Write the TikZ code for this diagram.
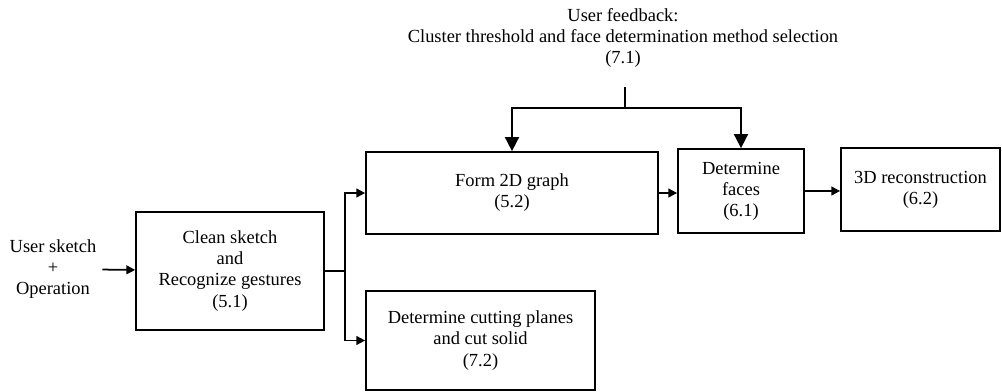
\documentclass[tikz,border=0pt]{standalone}
\usepackage{fontspec}
\setmainfont{Liberation Serif}
\usetikzlibrary{arrows.meta}

\begin{document}
\begin{tikzpicture}[x=0.02cm,y=-0.02cm,font=\fontsize{10.5}{12}\selectfont]
\tikzstyle{block} = [rectangle, draw=black, line width=1pt, fill=white,
text centered, align=center, inner sep=2pt]
\tikzstyle{line} = [draw, line width=1pt, -{Triangle[length=5pt,width=5pt]}];
\tikzstyle{bigline} = [draw, line width=1pt, -{Triangle[length=8pt,width=8pt]}];
\useasboundingbox (0,0) rectangle (1002,392);

% input and feedback texts
\node [align=center] (input) at (53,269) {User sketch\\+\\Operation};
\node [align=center] (feedback) at (623,38) {User feedback:\\
Cluster threshold and face determination method selection\\(7.1)};

% blocks
\node [block, minimum width=3.76cm, minimum height=2.36cm] (clean) at (230,271)
{Clean sketch\\and\\Recognize gestures\\(5.1)};
\node [block, minimum width=5.84cm, minimum height=1.64cm] (graph) at (512,193)
{Form 2D graph\\(5.2)};
\node [block, minimum width=2.52cm, minimum height=1.68cm] (faces) at (741,191)
{Determine\\faces\\(6.1)};
\node [block, minimum width=3.18cm, minimum height=1.66cm] (recon) at (920.5,189.5)
{3D reconstruction\\(6.2)};
\node [block, minimum width=4.58cm, minimum height=1.98cm] (cut) at (480.5,340.5)
{Determine cutting planes\\and cut solid\\(7.2)};

% branch points
\coordinate (split) at (345,271);
\coordinate (fbtop) at (625,87);
\coordinate (fbsplit) at (625,108);

\path [line] (input) -- (clean);
\draw [line width=1pt] (clean.east) -- (split);
\path [line] (split) |- (graph.west);
\path [line] (split) |- (cut.west);
\path [line] (graph.east) -- (graph.east -| faces.west);
\path [line] (faces.east) -- (faces.east -| recon.west);
\draw [line width=1pt] (fbtop) -- (fbsplit);
\path [bigline] (fbsplit) -| (graph.north);
\path [bigline] (fbsplit) -| (faces.north);
\end{tikzpicture}
\end{document}
